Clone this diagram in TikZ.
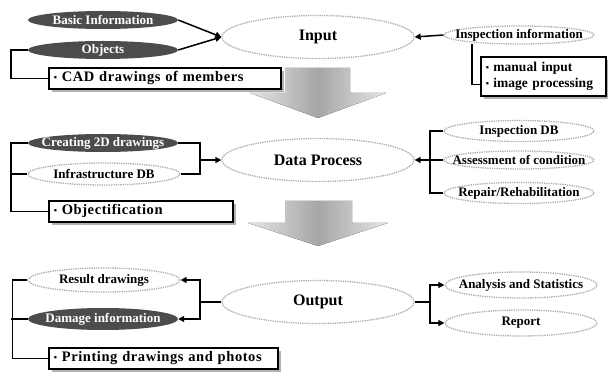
\documentclass[tikz,border=0pt]{standalone}
\usepackage{fontspec}
\setmainfont{Liberation Serif}
\newfontfamily\notefont[LetterSpace=4.0]{Liberation Serif}
\usetikzlibrary{shapes.geometric,arrows.meta,shadows}
\newcommand{\dotmark}{\raisebox{1pt}{\fontsize{9}{9}\selectfont ▪}}
\tikzset{
  darkell/.style={ellipse, fill=black!70, text=white, inner xsep=-40pt, inner ysep=-4pt,
    minimum width=150pt, minimum height=18pt, font=\fontsize{13}{15}\selectfont\bfseries},
  lightell/.style={ellipse, draw=gray!65, densely dotted, line width=1.3pt, fill=white,
    inner xsep=-40pt, inner ysep=-4pt, minimum width=152pt, minimum height=21pt, font=\fontsize{13}{15}\selectfont\bfseries},
  mainell/.style={lightell, minimum width=192pt, minimum height=43pt, font=\fontsize{16}{18}\selectfont\bfseries},
  notebox/.style={draw=black, line width=1.6pt, fill=white, anchor=north west, align=left,
    inner xsep=5pt, inner ysep=1pt, minimum height=21pt, font=\notefont\fontsize{14.5}{17}\selectfont\bfseries,
    drop shadow={shadow xshift=3.5pt, shadow yshift=-3.5pt, fill=gray!60, opacity=1}},
  link/.style={line width=1.5pt},
  feed/.style={link, -{Triangle[length=6pt,width=6pt]}},
  bigarrow/.style={left color=gray!20, right color=gray!20, middle color=gray!70},
}
\begin{document}
\begin{tikzpicture}[x=1pt,y=-1pt]
  \useasboundingbox (0,0) rectangle (608,379);
  % input
  \node[mainell] (input) at (318,37) {Input};
  \node[darkell] (basic) at (103,20) {Basic Information};
  \node[darkell] (objects) at (103,50) {Objects};
  \node[notebox, text width=222pt] (cad) at (48,67) {\dotmark\ CAD drawings of members};
  \node[lightell, minimum width=150pt, minimum height=18pt] (inspinfo) at (519,35) {Inspection information};
  \node[notebox, text width=115pt, minimum height=39pt, font=\fontsize{13.5}{15.5}\selectfont\bfseries] (manual) at (480,56) {\dotmark\ manual input\\\dotmark\ image processing};
  \draw[feed] (basic.east) -- (input.west);
  \draw[feed] (objects.east) -- (input.west);
  \draw[link] (objects.west) -- ++(-17,0) |- (cad.west);
  \draw[feed] (inspinfo.west) -- (input.east);
  \draw[link] ([xshift=-47pt,yshift=1pt]inspinfo.south) |- ([yshift=-8pt]manual.west);
  \fill[bigarrow] (285,68) -- (350,68) -- (350,93) -- (386,93) -- (318,118) -- (250,93) -- (285,93) -- cycle;
  % data process
  \node[mainell] (proc) at (318,160) {Data Process};
  \node[darkell] (create) at (103,143) {Creating 2D drawings};
  \node[lightell, minimum height=22pt] (infra) at (104,174) {Infrastructure DB};
  \node[notebox, text width=174pt] (objectif) at (48,200) {\dotmark\ Objectification};
  \node[lightell, minimum width=150pt] (inspdb) at (519,131) {Inspection DB};
  \node[lightell, minimum width=150pt, minimum height=18pt] (assess) at (519,160) {Assessment of condition};
  \node[lightell, minimum width=150pt] (repair) at (519,193) {Repair/Rehabilitation};
  \coordinate (mj) at (200,160);
  \coordinate (mr) at (430,160);
  \draw[link] (create.west) -- ++(-17,0) |- (objectif.west);
  \draw[link] (infra.west) -- ++(-15,0);
  \draw[link] (create.east) -- (create.east -| mj) -- (infra.east -| mj) -- (infra.east);
  \draw[feed] (mj) -- (proc.west);
  \draw[link] (inspdb.west) -- (inspdb.west -| mr) -- (repair.west -| mr) -- (repair.west);
  \draw[feed] (assess.west) -- (proc.east);
  \fill[bigarrow] (285,201) -- (352,201) -- (352,223) -- (388,223) -- (318,246) -- (248,223) -- (285,223) -- cycle;
  % output
  \node[mainell] (out) at (318,302) {Output};
  \node[lightell, minimum height=24pt] (result) at (104,280) {Result drawings};
  \node[darkell, minimum height=22pt] (damage) at (103,319) {Damage information};
  \node[notebox, text width=219pt] (print) at (48,347) {\dotmark\ Printing drawings and photos};
  \node[lightell, minimum height=26pt] (analysis) at (521,285) {Analysis and Statistics};
  \node[lightell, minimum height=26pt] (report) at (521,323) {Report};
  \coordinate (ol) at (200,302);
  \coordinate (or) at (430,302);
  \draw[link] (result.west) -- ++(-15,0) |- (print.west);
  \draw[link] (damage.west) -- ++(-17,0);
  \draw[link] (out.west) -- (ol);
  \draw[feed] (ol) |- (result.east);
  \draw[feed] (ol) |- (damage.east);
  \draw[link] (out.east) -- (or);
  \draw[feed] (or) |- (analysis.west);
  \draw[feed] (or) |- (report.west);
\end{tikzpicture}
\end{document}
